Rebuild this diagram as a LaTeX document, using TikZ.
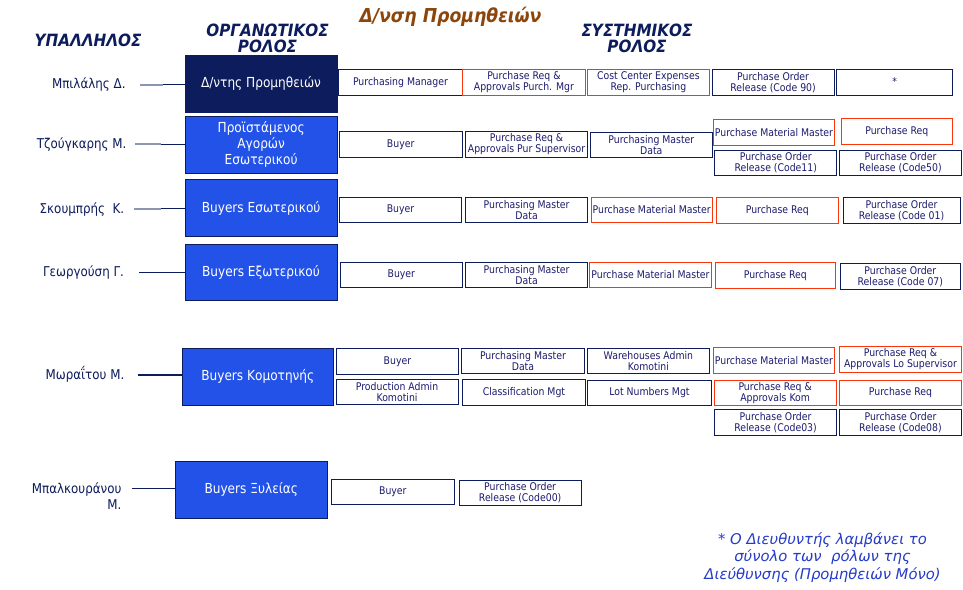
\documentclass[tikz,border=0pt]{standalone}
\usepackage{fontspec}
\setmainfont{DejaVu Sans}
\newfontfamily\cf{DejaVu Sans}[FakeStretch=0.88]
\newfontfamily\hf{DejaVu Sans}[FakeStretch=0.9]
\definecolor{navy}{RGB}{12,28,92}
\definecolor{rolebright}{RGB}{35,82,232}
\definecolor{redb}{RGB}{250,55,10}
\definecolor{txt}{RGB}{28,28,110}
\definecolor{titlebrown}{RGB}{140,70,12}
\definecolor{foot}{RGB}{38,60,200}
\definecolor{greyline}{RGB}{140,150,178}
\newcommand\rbox[7]{\node[#6, minimum width={(#4)-(#2)}, minimum height={(#5)-(#3)}] (#1) at ({((#2)+(#4))/2},{((#3)+(#5))/2}) {#7};}
\tikzset{
  sysbox/.style={draw=navy, line width=1pt, fill=white, inner sep=0pt, align=center, text=txt,
     font=\cf\fontsize{10.6}{11}\selectfont},
  redbox/.style={sysbox, draw=redb},
  rolebox/.style={draw=navy, line width=1pt, fill=rolebright, inner sep=0pt, align=center, text=white,
     font=\cf\fontsize{13.8}{15.8}\selectfont},
  darkrole/.style={rolebox, fill=navy},
  person/.style={text=navy, inner sep=0pt, font=\cf\fontsize{13.5}{16}\selectfont},
  heading/.style={text=navy, inner sep=0pt, align=center, font=\hf\bfseries\itshape\fontsize{16.9}{16.7}\selectfont},
  link/.style={draw=navy, line width=1.2pt},
  greyseg/.style={draw=greyline, line width=2pt},
}
\begin{document}
\begin{tikzpicture}[x=1pt,y=-1pt]
\useasboundingbox (0,0) rectangle (963,589);
\fill[white] (0,0) rectangle (963,589);

% headings
\node[heading] (hemp) at (88,40) {ΥΠΑΛΛΗΛΟΣ};
\node[heading] (horg) at (267.5,38.3) {ΟΡΓΑΝΩΤΙΚΟΣ\\ΡΟΛΟΣ};
\node[heading] (hsys) at (637,38.3) {ΣΥΣΤΗΜΙΚΟΣ\\ΡΟΛΟΣ};
\node[heading, text=titlebrown, font=\hf\bfseries\itshape\fontsize{19.2}{20}\selectfont] (title) at (450.5,17.3) {Δ/νση Προμηθειών};

% role boxes
\rbox{R1}{185}{55}{337}{112}{darkrole}{Δ/ντης Προμηθειών}
\rbox{R2}{185}{116}{337.3}{173.3}{rolebox}{Προϊστάμενος\\Αγορών\\Εσωτερικού}
\rbox{R3}{185}{179.3}{337.3}{236.7}{rolebox}{Buyers Εσωτερικού}
\rbox{R4}{185}{244.3}{337}{300.7}{rolebox}{Buyers Εξωτερικού}
\rbox{R5}{182.3}{348.3}{333.3}{405.3}{rolebox}{Buyers Κομοτηνής}
\rbox{R6}{175.3}{461.3}{327.3}{518.3}{rolebox}{Buyers Ξυλείας}

% persons
\node[person] (P1) at (88.8,84.5) {Μπιλάλης Δ.};
\node[person] (P2) at (81.7,145) {Τζούγκαρης Μ.};
\node[person] (P3) at (82,209.3) {Σκουμπρής\ \ Κ.};
\node[person] (P4) at (83.5,272.7) {Γεωργούση Γ.};
\node[person] (P5) at (85,374.5) {Μωραΐτου Μ.};
\node[person, align=right, anchor=east] (P6) at (121.7,495.8) {Μπαλκουράνου\\Μ.};

% connectors
\coordinate (c1) at (140,84.7);
\coordinate (c2) at (135,144.3);
\coordinate (c3) at (134,208.7);
\coordinate (c4) at (139.3,272.3);
\coordinate (c5) at (138.3,375);
\coordinate (c6) at (131.7,488.3);
\draw[link] (c1) -- (c1 -| R1.west);
\draw[link] (c2) -- (c2 -| R2.west);
\draw[link] (c3) -- (c3 -| R3.west);
\draw[link] (c4) -- (c4 -| R4.west);
\draw[link] (c5) -- (c5 -| R5.west);
\draw[link] (c6) -- (c6 -| R6.west);
\draw[greyseg] (c1) -- ++(23.3,0);
\draw[greyseg] (c2) -- ++(25.7,0);
\draw[greyseg] (c3) -- ++(26.7,0);

% row 1
\rbox{a1}{338.9}{69.3}{462}{95.5}{sysbox}{Purchasing Manager}
\rbox{a2}{462.8}{69.3}{585}{95.5}{redbox}{Purchase Req \&\\Approvals Purch. Mgr}
\rbox{a3}{587}{69.3}{709.8}{95.5}{redbox}{Cost Center Expenses\\Rep. Purchasing}
\rbox{a4}{712.2}{69.3}{834}{95.5}{sysbox}{Purchase Order\\Release (Code 90)}
\rbox{a5}{836.9}{69.3}{952.7}{95.5}{sysbox}{\raisebox{2pt}{*}}

% row 2
\rbox{b1}{339.3}{131.3}{462}{157.5}{sysbox}{Buyer}
\rbox{b2}{465.6}{131.3}{587.5}{157.5}{sysbox}{Purchase Req \&\\Approvals Pur Supervisor}
\rbox{b3}{590}{132}{712.6}{157.5}{sysbox}{Purchasing Master\\Data}
\rbox{b4}{713}{119.3}{834.9}{145.3}{redbox}{Purchase Material Master}
\rbox{b5}{841}{118.7}{952.7}{144.7}{redbox}{Purchase Req}
\rbox{b6}{714.6}{150}{836.9}{175.3}{sysbox}{Purchase Order\\Release (Code11)}
\rbox{b7}{839.3}{150}{961.6}{175.3}{sysbox}{Purchase Order\\Release (Code50)}

% row 3
\rbox{c1b}{339.3}{197.3}{461.7}{222.3}{sysbox}{Buyer}
\rbox{c2b}{465.5}{197.3}{587.7}{222.7}{sysbox}{Purchasing Master\\Data}
\rbox{c3b}{591}{197.3}{712.3}{222.7}{redbox}{Purchase Material Master}
\rbox{c4b}{716.3}{197.3}{838.3}{223.7}{redbox}{Purchase Req}
\rbox{c5b}{843}{197.3}{960}{223.7}{sysbox}{Purchase Order\\Release (Code 01)}

% row 4
\rbox{d1}{340}{262.3}{462.7}{287.3}{sysbox}{Buyer}
\rbox{d2}{465.5}{262.3}{587.7}{287.7}{sysbox}{Purchasing Master\\Data}
\rbox{d3}{589.3}{262.3}{711.7}{287.7}{redbox}{Purchase Material Master}
\rbox{d4}{715.3}{262.3}{835.3}{288.7}{redbox}{Purchase Req}
\rbox{d5}{840.7}{263.3}{960}{289.3}{sysbox}{Purchase Order\\Release (Code 07)}

% row 5
\rbox{e1}{336.1}{348.3}{458.7}{374.3}{sysbox}{Buyer}
\rbox{e2}{461.6}{348.3}{584.3}{373.7}{sysbox}{Purchasing Master\\Data}
\rbox{e3}{587}{348.3}{709.8}{373.7}{sysbox}{Warehouses Admin\\Komotini}
\rbox{e4}{713}{347}{834.9}{373.7}{redbox}{Purchase Material Master}
\rbox{e5}{839.3}{346.3}{961.6}{372.7}{redbox}{Purchase Req \&\\Approvals Lo Supervisor}
\rbox{e6}{336.1}{379.3}{458}{404.3}{sysbox}{Production Admin\\Komotini}
\rbox{e7}{462.4}{379.3}{585.5}{405}{sysbox}{Classification Mgt}
\rbox{e8}{587.9}{380}{711}{405.7}{sysbox}{Lot Numbers Mgt}
\rbox{e9}{714.2}{380.7}{836.1}{405.7}{redbox}{Purchase Req \&\\Approvals Kom}
\rbox{e10}{839.3}{380}{961.6}{405.3}{redbox}{Purchase Req}
\rbox{e11}{714.2}{409.3}{836.9}{435.7}{sysbox}{Purchase Order\\Release (Code03)}
\rbox{e12}{839.3}{409.3}{961.6}{435.7}{sysbox}{Purchase Order\\Release (Code08)}

% row 6
\rbox{f1}{331.5}{479.3}{454.2}{504.3}{sysbox}{Buyer}
\rbox{f2}{459}{480}{581.3}{505.3}{sysbox}{Purchase Order\\Release (Code00)}

% footnote
\node[text=foot, align=center, inner sep=0pt, font=\itshape\fontsize{14.8}{17.5}\selectfont] (note) at (822.5,557.5)
  {* Ο Διευθυντής λαμβάνει το\\σύνολο των\ \ ρόλων της\\Διεύθυνσης (Προμηθειών Μόνο)};
\end{tikzpicture}
\end{document}
